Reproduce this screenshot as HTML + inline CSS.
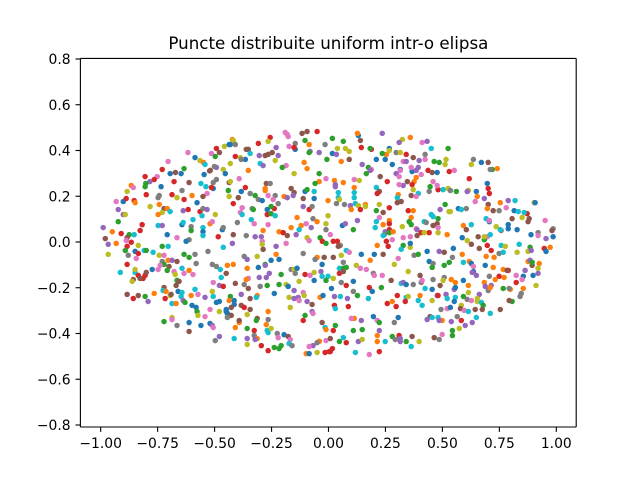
<!DOCTYPE html>
<html lang="ro">
<head>
<meta charset="utf-8">
<title>Puncte distribuite uniform intr-o elipsa</title>
<style>
html,body{margin:0;padding:0;background:#fff;width:640px;height:480px;overflow:hidden}
svg{display:block}
text{font-family:"DejaVu Sans","Liberation Sans",sans-serif;fill:#000}
</style>
</head>
<body>
<svg id="chart" xmlns="http://www.w3.org/2000/svg" width="640" height="480" viewBox="0 0 640 480">
<rect x="0" y="0" width="640" height="480" fill="#fff"/>
<text x="328.4" y="49" text-anchor="middle" font-size="16.67">Puncte distribuite uniform intr-o elipsa</text>
<g id="marks"></g>
<g id="axes"></g>
</svg>
<script>
const xTicks = [-1, -0.75, -0.5, -0.25, 0, 0.25, 0.5, 0.75, 1];
const xTickLabels = ['−1.00', '−0.75', '−0.50', '−0.25', '0.00', '0.25', '0.50', '0.75', '1.00'];
const yTicks = [-0.8, -0.6, -0.4, -0.2, 0, 0.2, 0.4, 0.6, 0.8];
const yTickLabels = ['−0.8', '−0.6', '−0.4', '−0.2', '0.0', '0.2', '0.4', '0.6', '0.8'];
const palette = {b:'#1f77b4', o:'#ff7f0e', g:'#2ca02c', r:'#d62728', p:'#9467bd', n:'#8c564b', k:'#e377c2', y:'#7f7f7f', l:'#bcbd22', c:'#17becf'};

const pointsUpperFarLeft = [
[-.617,.391,'k'],[-.586,.369,'b'],[-.564,.356,'l'],[-.549,.348,'o'],[-.542,.339,'c'],[-.704,.352,'k'],[-.730,.317,'r'],[-.634,.321,'g'],[-.695,.299,'b'],[-.672,.304,'n'],[-.647,.299,'b'],[-.546,.295,'b'],[-.522,.311,'n'],[-.805,.286,'r'],[-.752,.286,'k'],[-.765,.273,'r'],[-.784,.264,'p'],[-.802,.256,'g'],[-.805,.242,'g'],[-.866,.247,'o'],[-.857,.238,'k'],[-.735,.242,'b'],[-.678,.264,'r'],[-.612,.260,'n'],[-.560,.256,'c'],[-.538,.242,'c'],[-.884,.221,'l'],[-.800,.207,'r'],[-.643,.225,'y'],[-.687,.207,'r'],[-.599,.203,'o'],[-.743,.203,'y'],[-.748,.194,'y'],[-.665,.194,'l'],[-.634,.186,'r'],[-.533,.212,'k'],[-.551,.199,'n'],[-.932,.177,'k'],[-.901,.177,'b'],[-.888,.190,'r'],[-.853,.181,'r'],[-.849,.172,'o'],[-.577,.172,'b'],[-.743,.164,'o'],[-.783,.155,'l'],[-.923,.142,'p'],[-.722,.146,'n'],[-.708,.146,'o'],[-.695,.133,'c'],[-.638,.137,'p'],[-.616,.142,'r'],[-.564,.133,'r'],[-.551,.146,'y'],[-.533,.142,'p'],[-.555,.115,'c'],[-.730,.129,'l'],[-.748,.120,'o'],[-.901,.120,'p'],[-.892,.120,'l'],[-.923,.089,'g'],[-.595,.098,'c'],[-.643,.076,'b'],[-.638,.085,'c'],[-.818,.076,'r'],[-.520,.080,'o'],[-.603,.067,'y'],[-.989,.063,'p'],[-.748,.072,'c'],[-.730,.072,'p'],[-.827,.050,'r'],[-.949,.045,'o'],[-.603,.050,'g'],[-.551,.063,'c'],[-.551,.045,'b'],[-.551,.028,'c'],[-.910,.037,'r'],[-.875,.032,'g'],[-.853,.032,'c'],[-.884,.019,'n'],[-.708,.032,'b'],[-.980,.015,'n'],[-.665,.019,'k'],[-.612,.010,'y']
];

const pointsLowerFarLeft = [
[-.932,-.006,'o'],[-.967,-.010,'p'],[-.866,-.001,'r'],[-.888,.007,'k'],[-.884,-.019,'r'],[-.835,-.015,'l'],[-.892,-.037,'g'],[-.849,-.041,'b'],[-.835,-.050,'r'],[-.967,-.054,'l'],[-.879,-.058,'y'],[-.844,-.072,'k'],[-.809,-.037,'c'],[-.800,-.037,'g'],[-.770,-.045,'c'],[-.730,-.019,'g'],[-.704,-.019,'c'],[-.625,.003,'b'],[-.743,-.058,'l'],[-.722,-.058,'k'],[-.634,-.054,'g'],[-.612,-.067,'g'],[-.586,-.054,'y'],[-.529,-.041,'y'],[-.730,-.085,'y'],[-.704,-.080,'o'],[-.687,-.080,'p'],[-.665,-.085,'n'],[-.581,-.094,'y'],[-.884,-.098,'r'],[-.722,-.098,'g'],[-.700,-.107,'n'],[-.739,-.102,'k'],[-.748,-.120,'k'],[-.774,-.120,'b'],[-.708,-.124,'g'],[-.914,-.133,'c'],[-.849,-.133,'c'],[-.849,-.120,'l'],[-.643,-.115,'c'],[-.612,-.124,'o'],[-.678,-.129,'k'],[-.634,-.137,'k'],[-.595,-.142,'k'],[-.673,-.142,'l'],[-.805,-.146,'r'],[-.800,-.133,'n'],[-.835,-.146,'r'],[-.814,-.159,'r'],[-.827,-.159,'n'],[-.857,-.164,'n'],[-.862,-.172,'l'],[-.665,-.168,'g'],[-.656,-.172,'n'],[-.669,-.190,'n'],[-.722,-.199,'n'],[-.726,-.212,'c'],[-.713,-.216,'o'],[-.586,-.207,'c'],[-.660,-.216,'b'],[-.643,-.221,'c'],[-.884,-.229,'n'],[-.857,-.247,'r'],[-.835,-.234,'n'],[-.805,-.238,'g'],[-.765,-.225,'o'],[-.717,-.247,'r'],[-.695,-.234,'l'],[-.691,-.229,'n'],[-.603,-.234,'o'],[-.573,-.229,'k'],[-.647,-.238,'c'],[-.792,-.260,'p'],[-.638,-.256,'p'],[-.630,-.264,'g'],[-.687,-.269,'c'],[-.669,-.269,'o'],[-.542,-.242,'p'],[-.599,-.277,'b'],[-.581,-.286,'b'],[-.577,-.304,'g'],[-.573,-.321,'l'],[-.542,-.326,'k'],[-.520,-.295,'k'],[-.520,-.356,'b'],[-.722,-.348,'g'],[-.687,-.330,'l'],[-.687,-.339,'k'],[-.665,-.365,'y'],[-.612,-.352,'b'],[-.560,-.365,'b'],[-.612,-.391,'n']
];

const pointsUpperInnerLeft = [
[-.190,.479,'k'],[-.181,.470,'k'],[-.177,.461,'k'],[-.116,.475,'n'],[-.094,.483,'n'],[-.050,.483,'r'],[-.256,.457,'r'],[-.422,.448,'o'],[-.418,.444,'l'],[-.265,.440,'l'],[-.103,.444,'g'],[-.085,.426,'o'],[-.015,.426,'y'],[-.308,.431,'r'],[-.146,.431,'y'],[-.173,.418,'k'],[-.146,.405,'b'],[-.151,.413,'r'],[-.457,.418,'l'],[-.436,.426,'b'],[-.431,.426,'b'],[-.409,.426,'y'],[-.492,.409,'r'],[-.230,.413,'p'],[-.479,.391,'n'],[-.514,.387,'k'],[-.361,.405,'n'],[-.352,.405,'n'],[-.497,.374,'g'],[-.409,.374,'r'],[-.344,.387,'c'],[-.304,.378,'p'],[-.278,.378,'n'],[-.265,.383,'n'],[-.247,.391,'n'],[-.221,.378,'p'],[-.081,.396,'p'],[-.085,.391,'g'],[-.041,.391,'p'],[-.387,.369,'l'],[-.365,.361,'b'],[-.383,.361,'y'],[-.234,.356,'l'],[-.007,.361,'g'],[-.431,.343,'l'],[-.300,.343,'c'],[-.287,.334,'p'],[-.186,.334,'k'],[-.107,.348,'o'],[-.203,.326,'g'],[-.094,.321,'o'],[-.352,.313,'o'],[-.492,.326,'p'],[-.501,.330,'y'],[-.519,.313,'n'],[-.462,.317,'l'],[-.453,.299,'b'],[-.151,.299,'l'],[-.041,.299,'g'],[-.392,.277,'k'],[-.011,.277,'k'],[-.041,.264,'o'],[-.059,.256,'g'],[-.436,.260,'n'],[-.431,.264,'l'],[-.492,.273,'y'],[-.506,.260,'y'],[-.506,.234,'b'],[-.514,.238,'r'],[-.273,.256,'n'],[-.256,.256,'y'],[-.365,.238,'r'],[-.383,.221,'b'],[-.440,.225,'g'],[-.278,.225,'o'],[-.278,.234,'o'],[-.164,.234,'n'],[-.151,.216,'n'],[-.103,.221,'b'],[-.094,.229,'g'],[-.063,.221,'c'],[-.265,.203,'k'],[-.344,.212,'y'],[-.322,.203,'g'],[-.234,.203,'y'],[-.195,.199,'o'],[-.181,.194,'p'],[-.155,.203,'p'],[-.436,.199,'l'],[-.396,.194,'n'],[-.308,.186,'y'],[-.291,.181,'b'],[-.243,.186,'k'],[-.111,.190,'n'],[-.063,.190,'b'],[-.002,.181,'o'],[-.418,.168,'r'],[-.221,.168,'y'],[-.085,.142,'r'],[-.072,.155,'y'],[-.111,.155,'p'],[-.379,.150,'k'],[-.269,.142,'b'],[-.238,.146,'r'],[-.252,.155,'g'],[-.335,.146,'y'],[-.330,.142,'g'],[-.387,.129,'k'],[-.379,.120,'c'],[-.269,.120,'r'],[-.252,.124,'g'],[-.234,.115,'c'],[-.497,.120,'l'],[-.002,.115,'l'],[-.138,.107,'o'],[-.068,.102,'y'],[-.339,.098,'c'],[-.400,.085,'y'],[-.510,.089,'k'],[-.326,.080,'k'],[-.265,.076,'k'],[-.120,.072,'o'],[-.098,.080,'k'],[-.076,.063,'p'],[-.050,.089,'o'],[-.011,.080,'l'],[-.011,.054,'y'],[-.466,.054,'b'],[-.462,.063,'y'],[-.287,.050,'o'],[-.129,.054,'c'],[-.164,.063,'o'],[-.217,.045,'o'],[-.199,.041,'r'],[-.181,.028,'n'],[-.142,.032,'p'],[-.418,.032,'n'],[-.361,.028,'y'],[-.322,.023,'p'],[-.295,.023,'p'],[-.484,.023,'r'],[-.094,.019,'l'],[-.037,.019,'g']
];

const pointsLowerInnerLeft = [
[-.462,-.023,'c'],[-.422,-.006,'p'],[-.291,.003,'k'],[-.291,-.010,'l'],[-.186,-.006,'k'],[-.230,-.019,'p'],[-.287,-.032,'n'],[-.085,.006,'k'],[-.027,.003,'r'],[-.011,-.006,'g'],[-.230,-.054,'o'],[-.111,-.050,'y'],[-.313,-.063,'l'],[-.370,-.063,'y'],[-.357,-.076,'p'],[-.252,-.080,'b'],[-.217,-.076,'b'],[-.050,-.067,'o'],[-.059,-.076,'y'],[-.019,-.067,'n'],[-.510,-.098,'y'],[-.492,-.107,'y'],[-.444,-.102,'o'],[-.418,-.098,'o'],[-.278,-.098,'g'],[-.278,-.102,'p'],[-.308,-.111,'b'],[-.357,-.115,'o'],[-.475,-.120,'c'],[-.164,-.120,'y'],[-.151,-.120,'l'],[-.138,-.115,'b'],[-.028,-.098,'b'],[-.146,-.137,'y'],[-.449,-.137,'n'],[-.063,-.133,'l'],[-.033,-.129,'p'],[-.208,-.142,'g'],[-.103,-.142,'r'],[-.081,-.146,'k'],[-.260,-.137,'p'],[-.273,-.155,'p'],[-.304,-.155,'p'],[-.471,-.155,'c'],[-.352,-.159,'k'],[-.361,-.164,'o'],[-.063,-.168,'b'],[-.028,-.150,'c'],[-.002,-.150,'c'],[-.011,-.168,'g'],[-.129,-.172,'l'],[-.506,-.177,'k'],[-.370,-.186,'y'],[-.409,-.181,'n'],[-.269,-.190,'g'],[-.300,-.194,'y'],[-.217,-.186,'g'],[-.186,-.186,'l'],[-.177,-.194,'b'],[-.479,-.190,'p'],[-.462,-.194,'r'],[-.352,-.203,'n'],[-.510,-.216,'l'],[-.151,-.212,'p'],[-.238,-.225,'b'],[-.111,-.221,'k'],[-.037,-.242,'o'],[-.024,-.234,'b'],[-.383,-.229,'p'],[-.313,-.234,'o'],[-.317,-.242,'c'],[-.344,-.247,'n'],[-.506,-.238,'c'],[-.431,-.238,'g'],[-.173,-.242,'l'],[-.107,-.234,'l'],[-.151,-.247,'p'],[-.133,-.242,'p'],[-.129,-.256,'k'],[-.094,-.260,'p'],[-.072,-.273,'n'],[-.436,-.256,'o'],[-.414,-.256,'b'],[-.479,-.260,'b'],[-.492,-.264,'b'],[-.414,-.273,'b'],[-.383,-.277,'n'],[-.370,-.286,'r'],[-.427,-.286,'n'],[-.344,-.295,'n'],[-.168,-.286,'l'],[-.449,-.295,'b'],[-.449,-.304,'b'],[-.444,-.312,'b'],[-.479,-.304,'l'],[-.265,-.304,'o'],[-.103,-.321,'g'],[-.072,-.304,'p'],[-.068,-.312,'k'],[-.111,-.343,'r'],[-.427,-.321,'n'],[-.444,-.330,'y'],[-.357,-.317,'l'],[-.313,-.334,'n'],[-.317,-.343,'g'],[-.265,-.339,'y'],[-.392,-.352,'o'],[-.392,-.343,'n'],[-.510,-.365,'p'],[-.506,-.374,'k'],[-.273,-.361,'o'],[-.028,-.352,'n'],[-.409,-.374,'o'],[-.357,-.378,'g'],[-.326,-.387,'r'],[-.269,-.387,'c'],[-.252,-.378,'l'],[-.265,-.396,'c'],[-.326,-.409,'y'],[-.313,-.422,'o'],[-.225,-.400,'y'],[-.195,-.405,'b'],[-.221,-.418,'k'],[-.177,-.413,'n'],[-.168,-.426,'k'],[-.357,-.422,'p'],[-.322,-.426,'p'],[-.497,-.431,'y'],[-.479,-.413,'p'],[-.414,-.422,'c'],[-.357,-.448,'l'],[-.015,-.374,'c'],[-.011,-.383,'o'],[-.040,-.434,'o'],[-.050,-.440,'y'],[-.011,-.431,'k'],[-.068,-.453,'p'],[-.085,-.457,'k'],[-.295,-.453,'r'],[-.238,-.461,'g'],[-.217,-.466,'g'],[-.208,-.453,'g'],[-.265,-.475,'r'],[-.173,-.444,'c'],[-.160,-.453,'y'],[-.098,-.488,'o'],[-.085,-.488,'b'],[-.050,-.483,'l'],[-.015,-.483,'r'],[.003,-.479,'r']
];

const pointsUpperInnerRight = [
[.131,.466,'b'],[.127,.475,'o'],[.236,.475,'p'],[.359,.457,'o'],[.017,.453,'g'],[.065,.440,'g'],[.140,.444,'n'],[.324,.448,'l'],[.310,.435,'p'],[.411,.435,'k'],[.433,.440,'p'],[.144,.413,'r'],[.039,.409,'l'],[.074,.409,'l'],[.091,.396,'l'],[.188,.405,'r'],[.183,.409,'g'],[.254,.383,'o'],[.236,.387,'g'],[.267,.409,'b'],[.267,.400,'l'],[.451,.409,'c'],[.525,.409,'g'],[.297,.391,'y'],[.315,.391,'l'],[.341,.383,'r'],[.017,.387,'b'],[.035,.383,'p'],[.424,.383,'y'],[.372,.369,'n'],[.424,.361,'k'],[.210,.361,'b'],[.249,.361,'b'],[.398,.356,'p'],[.056,.352,'o'],[.091,.361,'n'],[.328,.352,'k'],[.341,.352,'p'],[.464,.352,'g'],[.486,.348,'g'],[.516,.361,'l'],[.512,.339,'l'],[.280,.339,'b'],[.148,.339,'p'],[.175,.326,'g'],[.188,.317,'k'],[.183,.313,'p'],[.166,.299,'g'],[.315,.317,'b'],[.315,.313,'k'],[.297,.299,'p'],[.367,.308,'b'],[.363,.326,'k'],[.385,.313,'p'],[.394,.326,'p'],[.437,.313,'r'],[.455,.304,'n'],[.477,.304,'b'],[.530,.308,'r'],[.407,.295,'k'],[.227,.286,'n'],[.258,.264,'r'],[.310,.286,'k'],[.026,.269,'o'],[.065,.260,'o'],[.113,.273,'k'],[.135,.269,'l'],[.030,.251,'p'],[.030,.242,'p'],[.113,.238,'o'],[.210,.238,'c'],[.346,.264,'n'],[.385,.282,'o'],[.376,.264,'o'],[.367,.251,'r'],[.328,.247,'p'],[.310,.251,'k'],[.372,.229,'l'],[.481,.229,'r'],[.503,.229,'c'],[.525,.234,'l'],[.442,.221,'y'],[.446,.242,'g'],[.459,.264,'k'],[.477,.247,'k'],[.043,.216,'c'],[.113,.216,'c'],[.223,.221,'n'],[.214,.212,'r'],[.394,.212,'c'],[.363,.203,'n'],[.385,.199,'k'],[.306,.207,'o'],[.302,.194,'c'],[.043,.194,'c'],[.048,.186,'l'],[.113,.194,'c'],[.035,.168,'y'],[.070,.164,'y'],[.096,.159,'p'],[.118,.168,'c'],[.131,.159,'l'],[.162,.164,'o'],[.162,.155,'l'],[.100,.142,'o'],[.140,.142,'r'],[.302,.172,'n'],[.319,.177,'n'],[.512,.164,'g'],[.223,.164,'l'],[.267,.150,'r'],[.350,.137,'r'],[.372,.137,'o'],[.490,.142,'p'],[.210,.137,'g'],[.529,.133,'l'],[.240,.129,'n'],[.363,.107,'o'],[.451,.120,'c'],[.459,.111,'c'],[.481,.102,'g'],[.223,.107,'k'],[.420,.089,'c'],[.429,.085,'y'],[.210,.089,'c'],[.240,.076,'o'],[.267,.094,'o'],[.267,.080,'r'],[.127,.094,'p'],[.061,.072,'b'],[.074,.080,'p'],[.354,.089,'g'],[.363,.076,'g'],[.477,.080,'n'],[.459,.072,'n'],[.481,.063,'k'],[.205,.063,'c'],[.324,.067,'l'],[.109,.054,'g'],[.267,.054,'r'],[.385,.058,'k'],[.389,.054,'p'],[.407,.041,'r'],[.442,.041,'r'],[.420,.041,'l'],[.481,.041,'l'],[.521,.032,'o'],[.249,.045,'p'],[.245,.032,'y'],[.240,.028,'c'],[.267,.041,'g'],[.284,.045,'o'],[.328,.019,'k'],[.359,.023,'k'],[.008,.032,'k'],[.389,.028,'n'],[.280,.010,'k']
];

const pointsLowerInnerRight = [
[.021,.003,'r'],[.039,.003,'r'],[.021,-.067,'n'],[.214,-.015,'o'],[.254,.003,'r'],[.262,-.019,'r'],[.328,-.015,'g'],[.359,-.023,'l'],[.359,-.006,'b'],[.319,-.032,'c'],[.052,-.015,'y'],[.043,-.019,'n'],[.078,-.037,'c'],[.091,-.045,'k'],[.056,-.058,'l'],[.144,-.054,'b'],[.201,-.054,'b'],[.240,-.054,'n'],[.183,-.080,'o'],[.376,-.058,'y'],[.394,-.054,'g'],[.433,-.041,'b'],[.306,-.072,'k'],[.289,-.098,'l'],[.486,-.041,'p'],[.508,-.045,'n'],[.065,-.089,'y'],[.442,-.085,'b'],[.459,-.094,'y'],[.455,-.111,'g'],[.508,-.102,'g'],[.530,-.089,'g'],[.122,-.102,'l'],[.048,-.115,'c'],[.065,-.115,'g'],[.078,-.111,'g'],[.048,-.137,'r'],[.065,-.129,'n'],[.140,-.115,'k'],[.166,-.120,'k'],[.350,-.129,'l'],[.197,-.137,'y'],[.201,-.146,'k'],[.236,-.146,'k'],[.402,-.146,'n'],[.021,-.159,'l'],[.275,-.168,'n'],[.459,-.164,'y'],[.508,-.155,'y'],[.503,-.168,'l'],[.407,-.177,'y'],[.411,-.168,'k'],[.319,-.181,'c'],[.328,-.177,'p'],[.341,-.186,'b'],[.372,-.186,'y'],[.490,-.190,'n'],[.056,-.177,'y'],[.078,-.190,'r'],[.109,-.172,'b'],[.013,-.203,'b'],[.179,-.199,'r'],[.192,-.216,'b'],[.232,-.199,'g'],[.424,-.203,'c'],[.455,-.207,'b'],[.109,-.216,'y'],[.127,-.234,'g'],[.026,-.238,'p'],[.052,-.238,'c'],[.083,-.247,'p'],[.175,-.247,'c'],[.302,-.234,'r'],[.402,-.234,'o'],[.341,-.242,'c'],[.350,-.238,'l'],[.477,-.234,'p'],[.481,-.234,'r'],[.516,-.229,'p'],[.521,-.247,'c'],[.455,-.256,'l'],[.258,-.269,'r'],[.280,-.260,'o'],[.337,-.260,'r'],[.394,-.256,'c'],[.297,-.282,'r'],[.411,-.277,'c'],[.026,-.277,'r'],[.087,-.282,'r'],[.030,-.291,'c'],[.494,-.295,'y'],[.521,-.291,'k'],[.197,-.326,'b'],[.306,-.330,'b'],[.289,-.352,'y'],[.214,-.343,'k'],[.223,-.352,'g'],[.446,-.326,'n'],[.433,-.339,'p'],[.455,-.330,'c'],[.481,-.330,'c'],[.499,-.343,'o'],[.486,-.343,'p'],[.113,-.334,'o'],[.100,-.334,'k'],[.144,-.343,'p'],[.030,-.365,'g'],[.021,-.387,'r'],[.109,-.387,'g'],[.148,-.383,'g'],[.223,-.387,'p'],[.214,-.409,'o'],[.280,-.413,'g'],[.310,-.409,'r'],[.293,-.426,'y'],[.315,-.422,'p'],[.315,-.435,'p'],[.367,-.413,'n'],[.341,-.435,'g'],[.398,-.435,'l'],[.464,-.418,'n'],[.486,-.426,'y'],[.499,-.404,'k'],[.214,-.435,'o'],[.249,-.435,'c'],[.065,-.418,'c'],[.008,-.422,'n'],[.048,-.435,'g'],[.078,-.440,'r'],[.131,-.435,'p'],[.148,-.426,'l'],[.363,-.457,'c'],[.017,-.466,'r'],[.008,-.479,'r'],[.118,-.483,'c'],[.179,-.492,'k'],[.223,-.479,'r']
];

const pointsUpperFarRight = [
[.636,.361,'y'],[.627,.339,'l'],[.671,.348,'b'],[.701,.348,'n'],[.719,.317,'g'],[.710,.317,'y'],[.741,.321,'o'],[.552,.313,'k'],[.618,.277,'r'],[.697,.256,'b'],[.701,.234,'r'],[.706,.212,'r'],[.535,.225,'y'],[.561,.221,'g'],[.614,.225,'l'],[.609,.221,'p'],[.649,.221,'b'],[.644,.177,'k'],[.653,.199,'o'],[.684,.190,'p'],[.754,.172,'o'],[.789,.181,'p'],[.819,.181,'c'],[.903,.172,'l'],[.907,.172,'b'],[.701,.164,'n'],[.570,.146,'b'],[.583,.142,'c'],[.605,.146,'y'],[.535,.133,'l'],[.697,.146,'o'],[.723,.137,'n'],[.749,.137,'y'],[.780,.150,'k'],[.815,.137,'b'],[.833,.133,'c'],[.872,.124,'r'],[.859,.129,'c'],[.850,.107,'l'],[.881,.102,'n'],[.876,.089,'n'],[.806,.102,'n'],[.692,.102,'c'],[.706,.089,'b'],[.706,.094,'k'],[.951,.094,'k'],[.592,.072,'o'],[.627,.076,'c'],[.605,.054,'n'],[.736,.067,'l'],[.789,.076,'b'],[.789,.058,'b'],[.758,.050,'y'],[.754,.054,'c'],[.828,.054,'b'],[.986,.058,'y'],[.981,.050,'n'],[.920,.041,'y'],[.889,.032,'b'],[.920,.028,'k'],[.587,.019,'b'],[.657,.023,'n'],[.697,.023,'k'],[.710,.032,'c'],[.684,.010,'g'],[.684,.023,'l'],[.955,.015,'p'],[.986,.023,'b'],[.609,.006,'l']
];

const pointsLowerFarRight = [
[.627,-.010,'n'],[.697,-.015,'r'],[.758,-.015,'c'],[.776,-.019,'l'],[.837,-.010,'c'],[.885,-.023,'g'],[.947,-.028,'r'],[.973,-.023,'o'],[.955,-.041,'b'],[.662,-.028,'n'],[.714,-.037,'r'],[.749,-.050,'y'],[.767,-.045,'c'],[.828,-.045,'l'],[.876,-.041,'l'],[.890,-.037,'p'],[.548,-.028,'b'],[.544,-.067,'y'],[.587,-.054,'o'],[.692,-.063,'o'],[.727,-.067,'o'],[.592,-.089,'c'],[.618,-.085,'o'],[.627,-.094,'b'],[.636,-.107,'k'],[.688,-.102,'b'],[.723,-.111,'o'],[.876,-.085,'o'],[.885,-.080,'p'],[.894,-.102,'n'],[.894,-.089,'g'],[.925,-.094,'o'],[.920,-.115,'l'],[.636,-.129,'b'],[.631,-.133,'p'],[.649,-.146,'p'],[.706,-.150,'y'],[.767,-.120,'o'],[.789,-.124,'r'],[.784,-.124,'n'],[.863,-.124,'p'],[.824,-.146,'k'],[.855,-.150,'b'],[.898,-.146,'b'],[.920,-.137,'p'],[.749,-.150,'r'],[.771,-.155,'o'],[.732,-.164,'o'],[.850,-.164,'k'],[.824,-.177,'r'],[.684,-.177,'o'],[.539,-.164,'o'],[.557,-.177,'o'],[.592,-.168,'b'],[.614,-.190,'o'],[.911,-.190,'l'],[.688,-.194,'p'],[.714,-.190,'p'],[.701,-.212,'y'],[.710,-.199,'o'],[.767,-.203,'g'],[.798,-.207,'o'],[.793,-.203,'y'],[.855,-.203,'o'],[.552,-.207,'p'],[.557,-.199,'b'],[.614,-.221,'l'],[.662,-.229,'p'],[.846,-.225,'y'],[.841,-.238,'y'],[.592,-.238,'g'],[.557,-.242,'c'],[.609,-.251,'y'],[.627,-.256,'k'],[.653,-.247,'l'],[.653,-.260,'l'],[.671,-.264,'c'],[.806,-.260,'g'],[.793,-.256,'n'],[.552,-.260,'b'],[.679,-.277,'g'],[.583,-.277,'l'],[.535,-.286,'b'],[.579,-.291,'n'],[.596,-.299,'k'],[.614,-.304,'c'],[.644,-.295,'n'],[.675,-.295,'n'],[.710,-.312,'c'],[.754,-.295,'n'],[.565,-.326,'y'],[.649,-.330,'c'],[.539,-.348,'p'],[.583,-.343,'r'],[.631,-.352,'p'],[.600,-.365,'p'],[.574,-.378,'l'],[.544,-.387,'g'],[.544,-.409,'g']
];

const NS = 'http://www.w3.org/2000/svg';
const plotLeft = 80.4, plotRight = 576.2, plotTop = 58.4, plotBottom = 427;
const tickLength = 4.86;
function xScale(v) { return 328.5 + 227.8 * v; }
function yScale(v) { return 242 - 228.75 * v; }

const marksLayer = document.getElementById('marks');
const axesLayer = document.getElementById('axes');
const allRegions = [pointsUpperFarLeft, pointsLowerFarLeft, pointsUpperInnerLeft, pointsLowerInnerLeft, pointsUpperInnerRight, pointsLowerInnerRight, pointsUpperFarRight, pointsLowerFarRight];

allRegions.forEach(function (region) {
  region.forEach(function (pt) {
    const dot = document.createElementNS(NS, 'circle');
    dot.setAttribute('cx', xScale(pt[0]).toFixed(2));
    dot.setAttribute('cy', yScale(pt[1]).toFixed(2));
    dot.setAttribute('r', '2.75');
    dot.setAttribute('fill', palette[pt[2]]);
    
    
    marksLayer.appendChild(dot);
  });
});

function drawLine(x1, y1, x2, y2) {
  const ln = document.createElementNS(NS, 'line');
  ln.setAttribute('x1', x1);
  ln.setAttribute('y1', y1);
  ln.setAttribute('x2', x2);
  ln.setAttribute('y2', y2);
  ln.setAttribute('stroke', '#000');
  ln.setAttribute('stroke-width', '1.11');
  axesLayer.appendChild(ln);
  return ln;
}

xTicks.forEach(function (v, i) {
  const px = xScale(v);
  const tick = drawLine(px, plotBottom, px, plotBottom + tickLength);
  
  
  const label = document.createElementNS(NS, 'text');
  label.setAttribute('x', px);
  label.setAttribute('y', 448);
  label.setAttribute('text-anchor', 'middle');
  label.setAttribute('font-size', '13.89');
  
  
  label.textContent = xTickLabels[i];
  axesLayer.appendChild(label);
});

yTicks.forEach(function (v, i) {
  const py = yScale(v);
  const tick = drawLine(plotLeft - tickLength, py, plotLeft, py);
  
  
  const label = document.createElementNS(NS, 'text');
  label.setAttribute('x', 70.6);
  label.setAttribute('y', py + 5.1);
  label.setAttribute('text-anchor', 'end');
  label.setAttribute('font-size', '13.89');
  
  
  label.textContent = yTickLabels[i];
  axesLayer.appendChild(label);
});

const spineLeft = drawLine(plotLeft, plotTop, plotLeft, plotBottom);


const spineRight = drawLine(plotRight, plotTop, plotRight, plotBottom);


const spineTop = drawLine(plotLeft, plotTop, plotRight, plotTop);


const spineBottom = drawLine(plotLeft, plotBottom, plotRight, plotBottom);


</script>
</body>
</html>
